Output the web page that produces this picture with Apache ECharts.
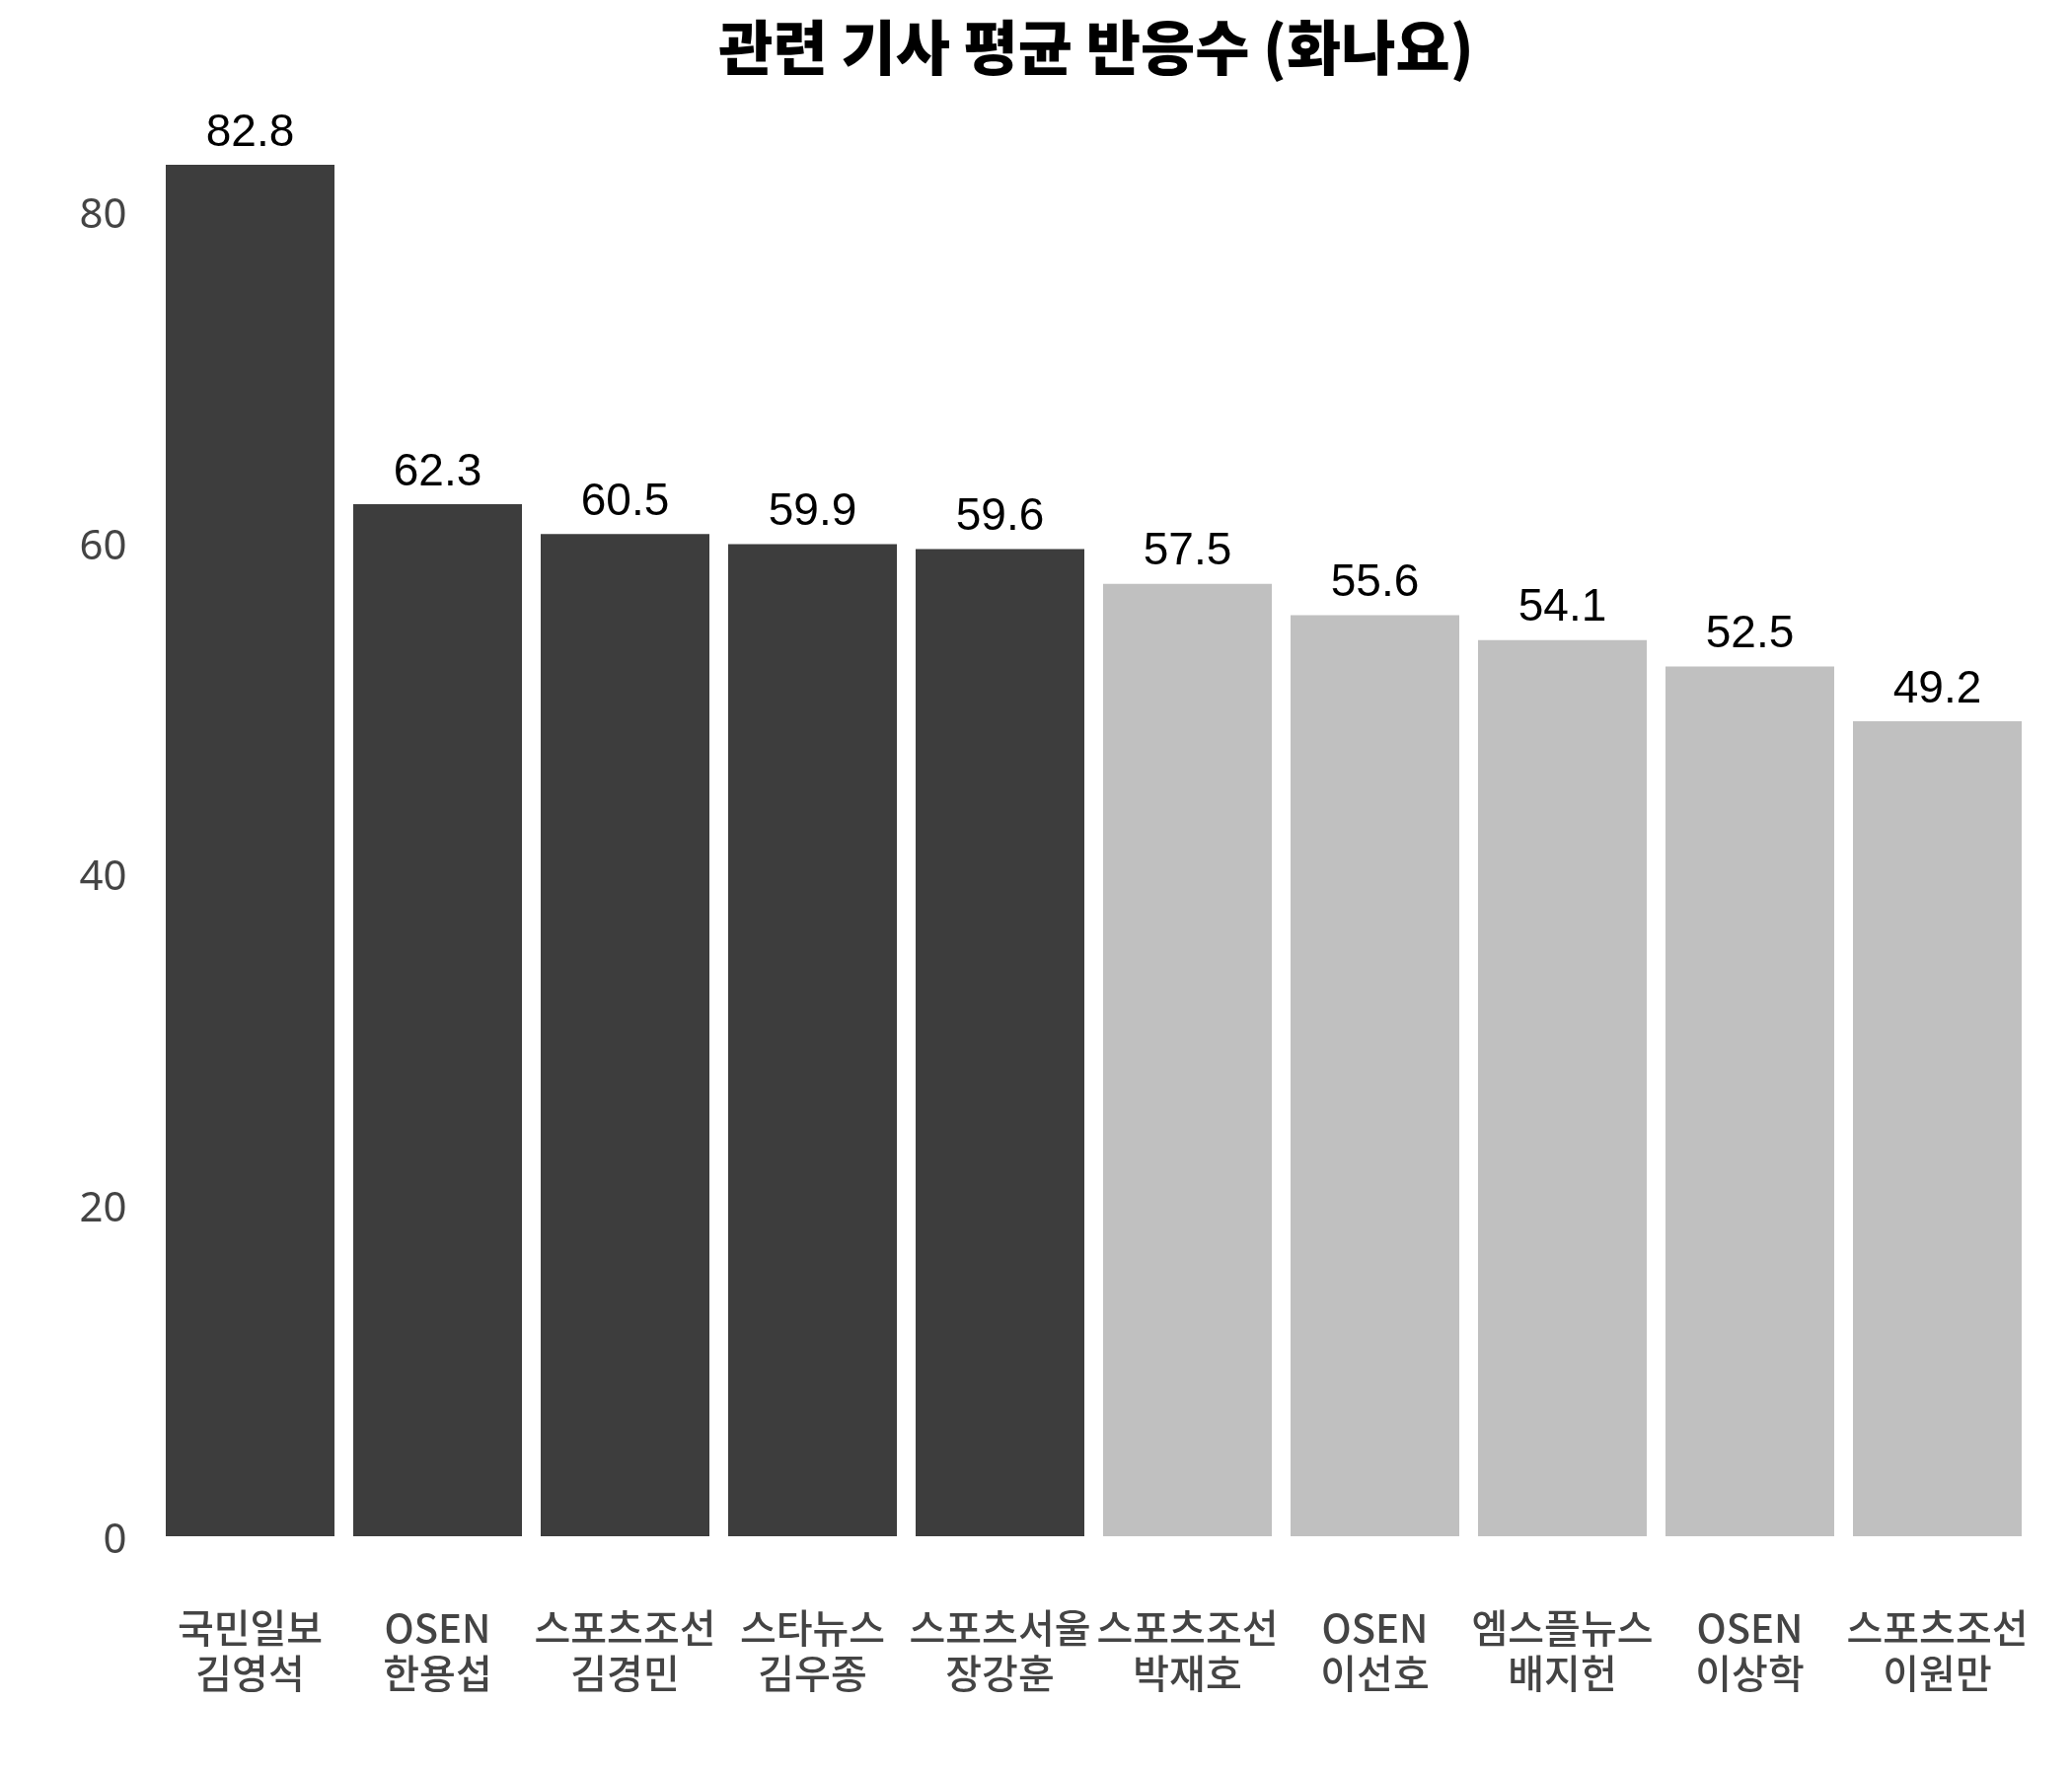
<!DOCTYPE html>
<html>
<head>
<meta charset="utf-8">
<script src="https://cdn.jsdelivr.net/npm/echarts@6/dist/echarts.min.js"></script>
<style>
html,body{margin:0;padding:0;background:#fff;}
#chart{width:2100px;height:1800px;}
</style>
</head>
<body>
<div id="chart"></div>
<script>
const titleText = '관련 기사 평균 반응수 (화나요)';
const categories = [
  '국민일보\n김영석', 'OSEN\n한용섭', '스포츠조선\n김경민', '스타뉴스\n김우종', '스포츠서울\n장강훈',
  '스포츠조선\n박재호', 'OSEN\n이선호', '엠스플뉴스\n배지헌', 'OSEN\n이상학', '스포츠조선\n이원만'
];
const values = [82.8, 62.3, 60.5, 59.9, 59.6, 57.5, 55.6, 54.1, 52.5, 49.2];
const isTop5 = [true, true, true, true, true, false, false, false, false, false];
const yTicks = [0, 20, 40, 60, 80];

const DARK = '#3d3d3d', LIGHT = '#c0c0c0';
const chart = echarts.init(document.getElementById('chart'));
chart.setOption({
  backgroundColor: '#ffffff',
  animation: false,
  title: {
    text: titleText,
    left: 1106,
    top: 13,
    textAlign: 'center',
    textStyle: {fontFamily: 'Noto Sans CJK KR', fontWeight: 900, fontSize: 60, color: '#000'}
  },
  grid: {left: 158.5, right: 41.5, top: 130, bottom: 243, containLabel: false},
  xAxis: {
    type: 'category',
    data: categories,
    axisLine: {show: false},
    axisTick: {show: false},
    axisLabel: {
      margin: 70,
      interval: 0,
      fontFamily: 'Noto Sans CJK KR',
      fontWeight: 500,
      fontSize: 40,
      lineHeight: 46,
      color: '#444'
    }
  },
  yAxis: {
    type: 'value',
    min: yTicks[0],
    max: 85,
    interval: yTicks[1] - yTicks[0],
    axisLine: {show: false},
    axisTick: {show: false},
    splitLine: {show: false},
    axisLabel: {
      margin: 30,
      showMaxLabel: false,
      formatter: '{t|{value}}',
      rich: {
        t: {
          padding: [10, 0, 0, 0],
          fontFamily: 'Noto Sans, Noto Sans CJK KR',
          fontSize: 42,
          color: '#444'
        }
      }
    }
  },
  series: [{
    type: 'bar',
    barCategoryGap: '10%',
    data: values.map((v, i) => ({value: v, itemStyle: {color: isTop5[i] ? DARK : LIGHT}})),
    label: {
      show: true,
      position: 'top',
      distance: 9,
      fontFamily: 'Liberation Sans, Arial, sans-serif',
      fontSize: 46,
      color: '#000',
      formatter: p => p.value.toFixed(1)
    }
  }]
});
</script>
</body>
</html>
